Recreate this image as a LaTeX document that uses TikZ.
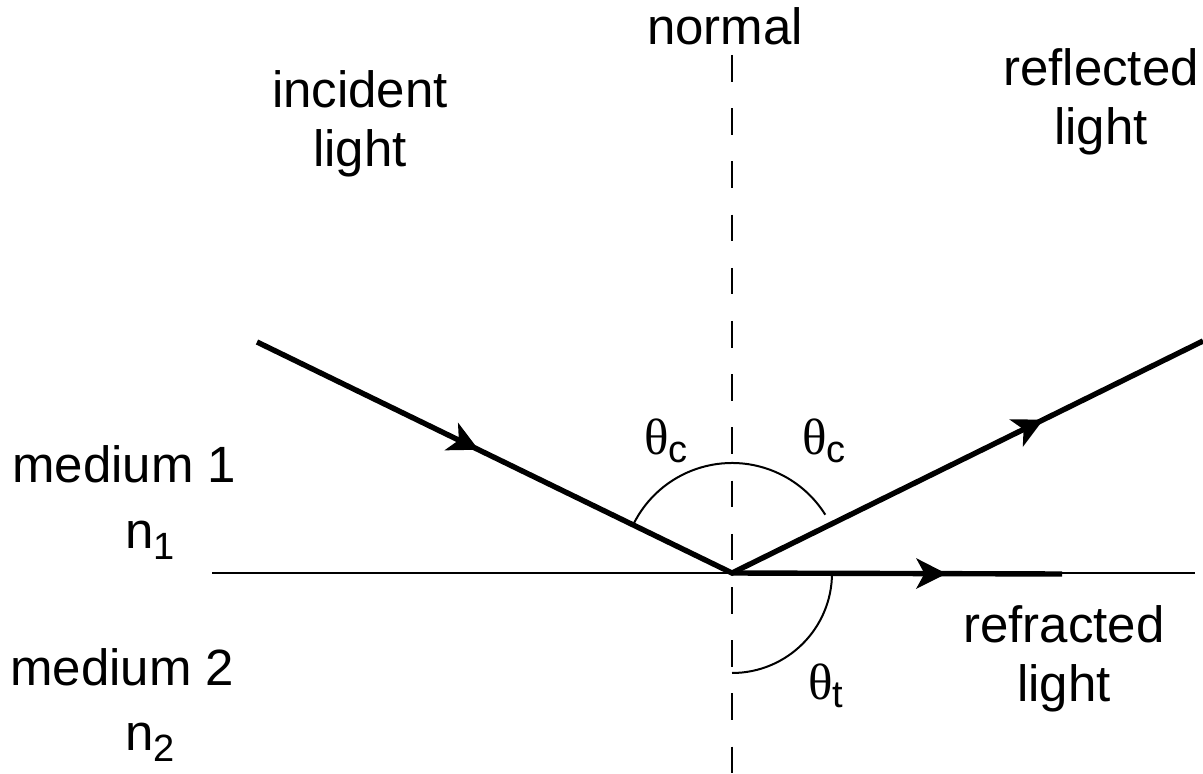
\documentclass[tikz,border=0pt]{standalone}
\usepackage{fontspec}
\setmainfont{Liberation Sans}
\newfontfamily\thetafont{Liberation Serif}
\usetikzlibrary{arrows.meta,decorations.markings}

\newcommand{\lsub}[1]{\raisebox{-0.22em}{\fontsize{19}{19}\selectfont #1}}
\newcommand{\angsym}[1]{{\thetafont θ}\raisebox{-0.16em}{\fontsize{19}{19}\selectfont #1}}

\tikzset{
  ray/.style={line width=2.7pt,line join=miter,postaction={decorate}},
  thinline/.style={line width=1pt},
  lbl/.style={font=\fontsize{25.5}{29.5}\selectfont,inner sep=0pt,align=center},
  anglbl/.style={font=\fontsize{25.5}{25.5}\selectfont,inner sep=0pt,anchor=base west},
  >={Stealth[length=15pt,width=15pt,inset=4pt]}
}

\begin{document}
\begin{tikzpicture}[x=0.5pt,y=-0.5pt]
\useasboundingbox (0,0) rectangle (1203,774);
% interface, normal and the rays
\coordinate (O) at (732,573); \coordinate (In) at (257,342); \coordinate (Rf) at (1203,341); \coordinate (Rt) at (1062,574);
\coordinate (S1) at (212,573); \coordinate (S2) at (1195,573); \coordinate (N1) at (732,55); \coordinate (N2) at (732,774);
\draw[thinline] (S1) -- (S2);
\draw[thinline,dash pattern=on 13.3pt off 13.3pt] (N1) -- (N2);
\draw[ray,decoration={markings,mark=at position 0.234 with {\arrow{>}},mark=at position 0.831 with {\arrow{>}}}] (In) -- (O) -- (Rf);
\draw[ray,decoration={markings,mark=at position 0.65 with {\arrow{>}}}] (O) -- (Rt);
% angle arcs
\draw[thinline] (O) ++(-154:110) arc[start angle=-154,end angle=-32,radius=110];
\draw[thinline] (O) ++(0:100) arc[start angle=0,end angle=90,radius=100];
% labels (base = last line)
\node[lbl,anchor=base] (normal) at (725,45) {normal};
\node[lbl,anchor=base] (incident) at (360,167) {incident\\light};
\node[lbl,anchor=base] (reflected) at (1101,145) {reflected\\light};
\node[lbl,anchor=base] (refracted) at (1064,701) {refracted\\light};
\node[lbl,anchor=base west] (med1) at (12,482) {medium 1}; \node[lbl,anchor=base west] (n1) at (125,548) {n\lsub{1}};
\node[lbl,anchor=base west] (med2) at (10,685) {medium 2}; \node[lbl,anchor=base west] (n2) at (125,750) {n\lsub{2}};
\node[anglbl] (thc1) at (644,454) {\angsym{c}}; \node[anglbl] (thc2) at (802,454) {\angsym{c}};
\node[anglbl] (tht) at (808,699) {\angsym{t}};
\end{tikzpicture}
\end{document}
